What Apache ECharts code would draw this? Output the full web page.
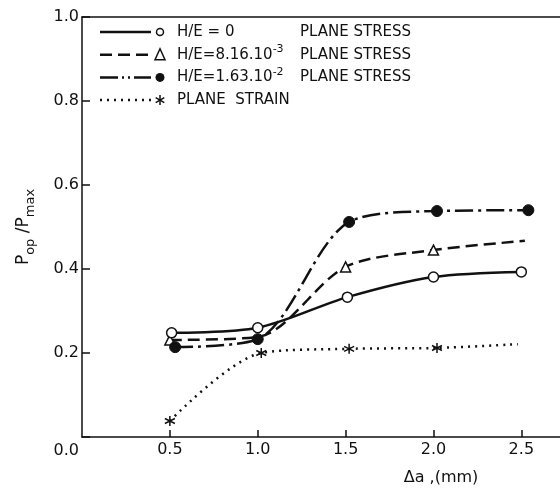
<!DOCTYPE html>
<html>
<head>
<meta charset="utf-8">
<script src="https://cdn.jsdelivr.net/npm/echarts@6/dist/echarts.min.js"></script>
<style>
  html, body { margin: 0; padding: 0; background: #fff; }
  #chart { width: 560px; height: 488px; }
</style>
</head>
<body>
<div id="chart"></div>
<script>
// values: [crack growth da (mm), Pop/Pmax]
const planeStress0 = [[0.51, 0.248], [1.0, 0.26], [1.51, 0.333], [2.0, 0.381], [2.5, 0.393]];
const planeStress816 = [[0.5, 0.231], [1.0, 0.238], [1.5, 0.405], [2.0, 0.445], [2.52, 0.467]];
const planeStress163 = [[0.53, 0.214], [1.0, 0.233], [1.52, 0.512], [2.02, 0.538], [2.54, 0.54]];
const planeStrain = [[0.5, 0.038], [1.02, 0.2], [1.52, 0.21], [2.02, 0.212], [2.48, 0.221]];

const xTicks = [0, 0.5, 1.0, 1.5, 2.0, 2.5];
const yTicks = [0, 0.2, 0.4, 0.6, 0.8, 1.0];

const FONT = 'DejaVu Sans';
const asterisk = 'path://M5 0L5 10M0.67 2.5L9.33 7.5M0.67 7.5L9.33 2.5';
const dashDot = [18, 4, 2, 4, 2, 4];

const chart = echarts.init(document.getElementById('chart'));

// points drawn without a marker in the original figure
function pts(arr, noMark) {
    return arr.map((p, i) => noMark.includes(i) ? { value: p, symbol: 'none' } : p);
}

// legend rows built by hand so the marker sits at the end of the line sample
const legendRows = [
    { dash: null, sym: 'o', label: '{a|H/E = 0}', tail: 'PLANE STRESS' },
    { dash: [12, 6], sym: 't', label: '{a|H/E=8.16.10}{s|-3}', tail: 'PLANE STRESS' },
    { dash: dashDot, sym: 'f', label: '{a|H/E=1.63.10}{s|-2}', tail: 'PLANE STRESS' },
    { dash: [2, 5], sym: 'x', label: '{a|PLANE  STRAIN}', tail: '' }
];
const legendEls = [];
const ink = { stroke: '#111', lineWidth: 1.5 };
legendRows.forEach((r, i) => {
    const y = 32 + i * 22.7;
    legendEls.push({
        type: 'line', shape: { x1: 100, y1: y, x2: 151, y2: y },
        style: { stroke: '#111', lineWidth: 2.5, lineDash: r.dash }
    });
    if (r.sym === 'o') {
        legendEls.push({ type: 'circle', shape: { cx: 160, cy: y, r: 3.5 }, style: { fill: '#fff', stroke: '#111', lineWidth: 1.5 } });
    } else if (r.sym === 'f') {
        legendEls.push({ type: 'circle', shape: { cx: 160, cy: y, r: 4.5 }, style: { fill: '#111' } });
    } else if (r.sym === 't') {
        legendEls.push({ type: 'polygon', shape: { points: [[160, y - 6], [155, y + 5], [165, y + 5]] }, style: { fill: '#fff', stroke: '#111', lineWidth: 1.5 } });
    } else {
        legendEls.push({ type: 'line', shape: { x1: 160, y1: y - 5, x2: 160, y2: y + 5 }, style: ink });
        legendEls.push({ type: 'line', shape: { x1: 155.7, y1: y - 2.5, x2: 164.3, y2: y + 2.5 }, style: ink });
        legendEls.push({ type: 'line', shape: { x1: 155.7, y1: y + 2.5, x2: 164.3, y2: y - 2.5 }, style: ink });
    }
    legendEls.push({
        type: 'text', x: 177, y: y,
        style: {
            text: r.label, verticalAlign: 'middle', fill: '#111',
            rich: {
                a: { fontFamily: FONT, fontSize: 15, lineHeight: 22, fill: '#111' },
                s: { fontFamily: FONT, fontSize: 11, lineHeight: 11, verticalAlign: 'top', fill: '#111' }
            }
        }
    });
    if (r.tail) {
        legendEls.push({
            type: 'text', x: 300, y: y,
            style: { text: r.tail, fontFamily: FONT, fontSize: 15, fill: '#111', verticalAlign: 'middle' }
        });
    }
});

const option = {
    animation: false,
    backgroundColor: '#fff',
    grid: { left: 82, right: 0, top: 17, bottom: 51, outerBoundsMode: 'none', containLabel: false },
    xAxis: [{
        type: 'value',
        min: 0,
        max: 2.72,
        axisLine: { lineStyle: { color: '#111', width: 1.5 } },
        axisTick: { inside: true, length: 7, customValues: xTicks.slice(1), lineStyle: { color: '#111', width: 1.5 } },
        axisLabel: {
            customValues: xTicks.slice(1),
            formatter: v => v.toFixed(1),
            color: '#111', fontFamily: FONT, fontSize: 16, margin: 5
        },
        splitLine: { show: false }
    }, {
        type: 'value',
        position: 'top',
        min: 0,
        max: 2.72,
        axisLine: { show: true, lineStyle: { color: '#111', width: 1.5 } },
        axisTick: { show: false },
        axisLabel: { show: false },
        splitLine: { show: false }
    }],
    yAxis: {
        type: 'value',
        min: 0,
        max: 1,
        interval: 0.2,
        name: '{p|P}{b|op}{p| /P}{b|max}',
        nameLocation: 'middle',
        nameRotate: 90,
        nameGap: 45,
        nameMoveOverlap: false,
        nameTextStyle: {
            rich: {
                p: { fontFamily: FONT, fontSize: 17, lineHeight: 26, color: '#111' },
                b: { fontFamily: FONT, fontSize: 13, lineHeight: 13, verticalAlign: 'bottom', color: '#111' }
            }
        },
        axisLine: { show: true, lineStyle: { color: '#111', width: 1.5 } },
        axisTick: { inside: true, length: 8, lineStyle: { color: '#111', width: 1.5 } },
        axisLabel: {
            formatter: v => v === 0 ? '{z|0.0}' : v.toFixed(1),
            color: '#111', fontFamily: FONT, fontSize: 16, margin: 3,
            rich: { z: { fontFamily: FONT, fontSize: 16, color: '#111', padding: [27, 0, 0, 0] } }
        },
        splitLine: { show: false }
    },
    graphic: legendEls.concat([{
        type: 'text', x: 441, y: 478,
        style: { text: 'Δa ,(mm)', fontFamily: FONT, fontSize: 16, fill: '#111', align: 'center', verticalAlign: 'middle' }
    }]),
    series: [{
        name: 'H/E=0 PLANE STRESS',
        type: 'line',
        smooth: 0.3,
        data: pts(planeStress0, []),
        symbol: 'circle',
        symbolSize: 10,
        itemStyle: { color: '#fff', borderColor: '#111', borderWidth: 1.5 },
        lineStyle: { color: '#111', width: 2.5 },
        z: 3
    }, {
        name: 'H/E=8.16.10-3 PLANE STRESS',
        type: 'line',
        smooth: 0.3,
        data: pts(planeStress816, [1, 4]),
        symbol: 'triangle',
        symbolSize: 10,
        itemStyle: { color: '#fff', borderColor: '#111', borderWidth: 1.5 },
        lineStyle: { color: '#111', width: 2.5, type: [12, 6] },
        z: 2
    }, {
        name: 'H/E=1.63.10-2 PLANE STRESS',
        type: 'line',
        smooth: 0.3,
        data: pts(planeStress163, []),
        symbol: 'circle',
        symbolSize: 11,
        itemStyle: { color: '#111', borderColor: '#111', borderWidth: 1 },
        lineStyle: { color: '#111', width: 2.5, type: [18, 5, 3, 5] },
        z: 2
    }, {
        name: 'PLANE STRAIN',
        type: 'line',
        smooth: 0.3,
        data: pts(planeStrain, [4]),
        symbol: asterisk,
        symbolSize: 10,
        itemStyle: { color: '#111', borderColor: '#111', borderWidth: 1.5 },
        lineStyle: { color: '#111', width: 2.5, type: [2, 5] },
        z: 2
    }]
};

chart.setOption(option);
</script>
</body>
</html>
